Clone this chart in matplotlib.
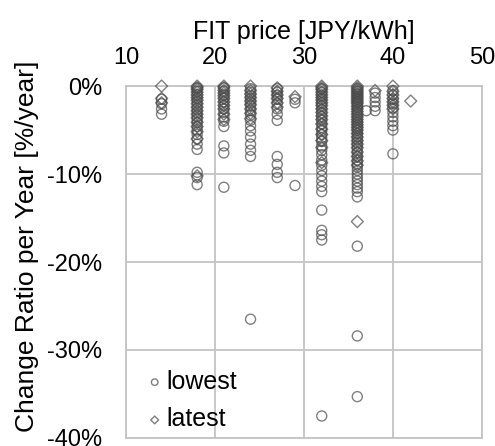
import matplotlib
matplotlib.use('Agg')
import matplotlib.pyplot as plt
from matplotlib.ticker import FuncFormatter

plt.rcParams['font.family'] = ['Liberation Sans', 'DejaVu Sans']

# FIT price columns [JPY/kWh]
prices = [14, 18, 21, 24, 27, 29, 32, 36, 37, 38, 40, 42]

# change ratio per year [%/year], lowest value per plant
lowest = [
    [-1.5, -2.0, -2.6, -3.2],
    [-0.2, -0.6, -1.0, -1.4, -1.8, -2.2, -2.6, -3.0, -3.4, -3.8, -4.2, -4.6, -5.0, -5.5, -6.0, -6.6, -7.2,
     -9.8, -10.4, -11.2],
    [-0.2, -0.6, -1.0, -1.4, -1.8, -2.2, -2.6, -3.0, -3.5, -4.0, -4.6, -6.8, -7.6, -11.5],
    [-0.3, -0.7, -1.1, -1.5, -1.9, -2.3, -2.8, -3.3, -3.9, -4.5, -5.1, -5.8, -6.6, -7.3, -8.0, -26.5],
    [-0.3, -0.7, -1.1, -1.5, -2.0, -2.6, -3.2, -3.9, -8.0, -8.9, -9.8, -10.4],
    [-1.5, -1.9, -11.3],
    [-0.3, -0.7, -1.1, -1.5, -1.9, -2.3, -2.7, -3.1, -3.5, -3.9, -4.3, -4.7, -5.1, -5.5, -5.9, -6.3, -6.8,
     -7.3, -7.8, -8.4, -9.0, -9.6, -10.2, -10.8, -11.4, -12.0, -14.1, -16.4, -16.9, -17.5, -37.5],
    [-0.3, -0.6, -0.9, -1.2, -1.5, -1.8, -2.1, -2.4, -2.7, -3.0, -3.3, -3.6, -3.9, -4.2, -4.5, -4.8, -5.1,
     -5.4, -5.7, -6.0, -6.4, -6.8, -7.2, -7.6, -8.0, -8.4, -8.8, -9.2, -9.6, -10.0, -10.4, -10.8, -11.2,
     -11.6, -12.0, -12.6, -18.2, -28.4, -35.3],
    [-2.8],
    [-0.8, -1.3, -1.8, -2.3, -2.8],
    [-0.5, -1.0, -1.5, -2.0, -2.5, -3.0, -3.5, -4.0, -4.5, -5.0, -7.7],
    [],
]

# change ratio per year [%/year], latest value per plant
latest = [
    [0.0, -1.4, -1.9],
    [0.0, -0.2, -0.4, -0.7, -1.0, -1.3, -1.6, -2.0, -2.4, -2.8, -3.2, -3.6, -4.1, -4.6, -5.2, -6.0, -10.2],
    [0.0, -0.2, -0.5, -0.8, -1.1, -1.4, -1.8, -2.2, -2.6, -3.2, -3.8],
    [0.0, -0.5, -0.9, -1.3, -1.7, -2.1, -2.6, -3.1, -3.7],
    [-0.2, -0.6, -1.0, -1.4, -1.9, -2.4],
    [-1.2],
    [0.0, -0.2, -0.4, -0.7, -1.0, -1.3, -1.6, -1.9, -2.2, -2.6, -3.0, -3.4, -3.8, -4.3, -4.9, -5.5, -6.2,
     -7.0, -8.7],
    [0.0, -0.2, -0.4, -0.6, -0.8, -1.0, -1.2, -1.4, -1.6, -1.8, -2.0, -2.3, -2.6, -2.9, -3.2, -3.5, -3.8,
     -4.1, -4.4, -4.7, -5.0, -5.4, -5.8, -6.2, -6.6, -7.0, -7.5, -8.0, -8.5, -9.0, -15.4],
    [],
    [-0.5],
    [0.0, -0.6, -1.0, -1.4, -1.8, -2.2, -2.6],
    [-1.7],
]

low_x, low_y, lat_x, lat_y = [], [], [], []
for p, lo, la in zip(prices, lowest, latest):
    low_x += [p] * len(lo)
    low_y += lo
    lat_x += [p] * len(la)
    lat_y += la

fig = plt.figure(figsize=(4.95, 4.46), dpi=100)
ax = fig.add_axes([0.2545, 0.018, 0.719, 0.789])

ax.scatter(low_x, low_y, s=52, marker='o', facecolors='none', edgecolors='#4a4a4a',
           linewidths=1.0, alpha=0.7, label='lowest', zorder=3, clip_on=False)
ax.scatter(lat_x, lat_y, s=37, marker='D', facecolors='none', edgecolors='#4a4a4a',
           linewidths=1.0, alpha=0.7, label='latest', zorder=3, clip_on=False)

ax.set_xlim(10, 50)
ax.set_ylim(-40, 0)
ax.set_xticks([10, 20, 30, 40, 50])
ax.set_yticks([0, -10, -20, -30, -40])
ax.yaxis.set_major_formatter(FuncFormatter(lambda v, pos: '%d%%' % v))
ax.xaxis.tick_top()
ax.xaxis.set_label_position('top')
ax.tick_params(length=0, labelsize=17)
ax.tick_params(axis='x', pad=12)
ax.tick_params(axis='y', pad=17)
ax.set_xlabel('FIT price [JPY/kWh]', fontsize=18, labelpad=6)
ax.set_ylabel('Change Ratio per Year [%/year]', fontsize=19)
ax.yaxis.set_label_coords(-0.245, 0.545)
ax.grid(True, color='#c4c4c4', linewidth=1.3, zorder=0)
ax.set_axisbelow(True)
for sp in ax.spines.values():
    sp.set_color('#c4c4c4')
    sp.set_linewidth(1.3)

ax.legend(loc='lower left', frameon=False, fontsize=18, markerscale=0.65,
          handlelength=0.5, handletextpad=0.2, labelspacing=0.55,
          borderaxespad=0.0, bbox_to_anchor=(0.035, -0.01))

plt.savefig('out.png', dpi=100)
